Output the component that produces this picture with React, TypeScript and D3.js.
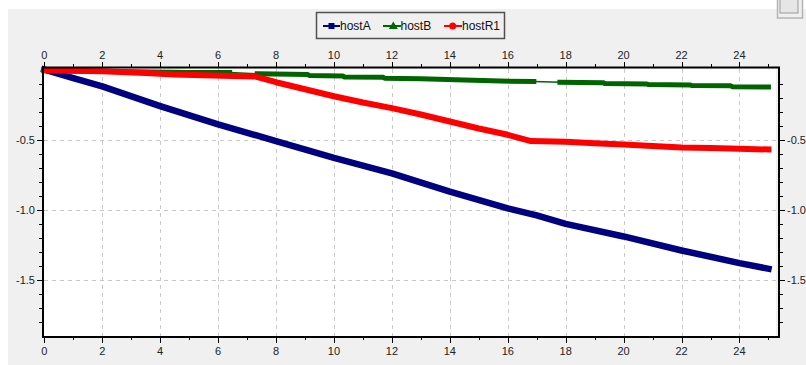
import React from "react";
import * as d3 from "d3";

type Pt = [number, number];

// Series values (x, y)
const hostA: Pt[] = [
  [0, 0], [1, -0.06], [2, -0.12], [4, -0.26], [6, -0.39], [8, -0.51], [10, -0.63],
  [12, -0.74], [14, -0.87], [16, -0.99], [17, -1.04], [18, -1.1], [20, -1.19],
  [22, -1.29], [24, -1.38], [25, -1.42],
];
const hostB: Pt[] = [
  [0, -0.005], [1, -0.01], [3, -0.015], [5, -0.02], [6.4, -0.02], [7.35, -0.03],
  [9.1, -0.035], [9.15, -0.042], [10.3, -0.045], [10.35, -0.052], [11.7, -0.055],
  [11.75, -0.062], [13, -0.066], [14.5, -0.075], [15.75, -0.082], [16.9, -0.084],
  [17.8, -0.09], [19.3, -0.093], [19.35, -0.1], [20.8, -0.102], [20.85, -0.107],
  [22.3, -0.109], [22.35, -0.114], [23.7, -0.116], [23.75, -0.122], [25, -0.124],
];
const hostBGaps: Pt[] = [[6.4, 7.35], [16.9, 17.8]];
const hostR1: Pt[] = [
  [0, -0.005], [2, -0.012], [3.5, -0.025], [4.5, -0.035], [6.5, -0.045], [7.3, -0.05],
  [8, -0.09], [9, -0.14], [10, -0.19], [11, -0.235], [12, -0.275], [13, -0.32],
  [14, -0.37], [15, -0.42], [16, -0.465], [16.8, -0.51], [18, -0.515], [19, -0.525],
  [20, -0.535], [21, -0.545], [22, -0.555], [23, -0.56], [24, -0.565], [25, -0.57],
];

const seriesNames = ["hostA", "hostB", "hostR1"];
const seriesColors = ["#000080", "#006400", "#ff0000"];

const xMajorTicks = [0, 2, 4, 6, 8, 10, 12, 14, 16, 18, 20, 22, 24];
const xMinorTicks = [1, 3, 5, 7, 9, 11, 13, 15, 17, 19, 21, 23, 25];
const yMajorTicks = [-0.5, -1.0, -1.5];
const yMinorTicks = d3.range(1, 19).map((i) => -i / 10);
const yTickLabels = ["-0.5", "-1.0", "-1.5"];

const W = 806;
const H = 365;
const plot = { x0: 44, x1: 778, y0: 69, y1: 336 };

const x = d3.scaleLinear().domain([0, 25.34]).range([44.3, 778.3]);
const y = d3.scaleLinear().domain([0, -1.9]).range([69.6, 336]);

const line = d3
  .line<Pt>()
  .x((d) => x(d[0]))
  .y((d) => y(d[1]));

function splitRuns(pts: Pt[], gaps: Pt[]): Pt[][] {
  const runs: Pt[][] = [];
  let cur: Pt[] = [pts[0]];
  for (let i = 1; i < pts.length; i++) {
    const mid = (pts[i - 1][0] + pts[i][0]) / 2;
    const inGap = gaps.some(([a, b]) => mid > a && mid < b);
    if (inGap) {
      runs.push(cur);
      cur = [pts[i]];
    } else cur.push(pts[i]);
  }
  runs.push(cur);
  return runs;
}

const font = "Liberation Sans, Arial, sans-serif";

export default function App() {
  const series: { pts: Pt[]; gaps: Pt[]; width: number }[] = [
    { pts: hostA, gaps: [], width: 6.5 },
    { pts: hostB, gaps: hostBGaps, width: 5 },
    { pts: hostR1, gaps: [], width: 6 },
  ];
  const tickColor = "#000";
  const labelColor = "#222";

  return (
    <svg
      width={W}
      height={H}
      style={{ position: "absolute", left: 0, top: 0 }}
      fontFamily={font}
    >
      <rect x={0} y={0} width={W} height={H} fill="#ffffff" />
      <rect x={8} y={9} width={W - 8} height={H - 9} fill="#f0f0f0" />
      <rect x={777.5} y={-1} width={25} height={19} fill="#f0f0f0" stroke="#b5b5b5" strokeWidth={1.5} />
      <rect x={780} y={-1} width={18} height={14} fill="#e6e6e6" stroke="#9a9a9a" strokeWidth={1} />

      {/* plot area */}
      <rect x={plot.x0} y={plot.y0} width={plot.x1 - plot.x0 - 2} height={plot.y1 - plot.y0} fill="#fff" />

      {/* grid */}
      <g stroke="#c8c8c8" strokeWidth={1} strokeDasharray="4,4">
        {xMajorTicks.filter((t) => t > 0).map((t) => (
          <line key={"gx" + t} x1={Math.round(x(t)) + 0.5} x2={Math.round(x(t)) + 0.5} y1={plot.y0} y2={plot.y1} />
        ))}
        {yMajorTicks.map((t) => (
          <line key={"gy" + t} x1={plot.x0} x2={plot.x1 - 2} y1={Math.round(y(t)) + 0.5} y2={Math.round(y(t)) + 0.5} />
        ))}
      </g>

      {/* series */}
      {series.map((s, i) => (
        <g key={seriesNames[i]}>
          <path d={line(s.pts) || ""} fill="none" stroke={seriesColors[i]} strokeWidth={1.5} />
          {splitRuns(s.pts, s.gaps).map((run, j) =>
            run.length > 1 ? (
              <path
                key={j}
                d={line(run) || ""}
                fill="none"
                stroke={seriesColors[i]}
                strokeWidth={s.width}
                strokeLinejoin="round"
                strokeLinecap="square"
              />
            ) : null
          )}
        </g>
      ))}

      {/* axis lines */}
      <g stroke={tickColor} strokeWidth={2} fill="none">
        <line x1={42} x2={780} y1={67.5} y2={67.5} />
        <line x1={42} x2={780} y1={337} y2={337} />
        <line x1={43} x2={43} y1={67.5} y2={337} />
        <line x1={779} x2={779} y1={67.5} y2={337} />
      </g>

      {/* x ticks top & bottom */}
      <g stroke={tickColor} strokeWidth={1}>
        {xMajorTicks.map((t) => {
          const px = Math.round(x(t)) + 0.5;
          return (
            <g key={"xt" + t}>
              <line x1={px} x2={px} y1={62} y2={67} />
              <line x1={px} x2={px} y1={337} y2={343} />
            </g>
          );
        })}
        {xMinorTicks.map((t) => {
          const px = Math.round(x(t)) + 0.5;
          return (
            <g key={"xm" + t}>
              <line x1={px} x2={px} y1={64} y2={67} />
              <line x1={px} x2={px} y1={337} y2={340} />
            </g>
          );
        })}
        {yMinorTicks.map((t) => {
          const py = Math.round(y(t)) + 0.5;
          const major = yMajorTicks.some((m) => Math.abs(m - t) < 1e-9);
          return (
            <g key={"ym" + t}>
              <line x1={major ? 37 : 39} x2={43} y1={py} y2={py} />
              <line x1={779} x2={major ? 785 : 783} y1={py} y2={py} />
            </g>
          );
        })}
      </g>

      {/* tick labels */}
      <g fontSize={11} fill={labelColor}>
        {xMajorTicks.map((t) => (
          <g key={"xl" + t}>
            <text x={x(t)} y={59} textAnchor="middle">{t}</text>
            <text x={x(t)} y={355} textAnchor="middle">{t}</text>
          </g>
        ))}
        {yMajorTicks.map((t, i) => (
          <g key={"yl" + t}>
            <text x={35} y={y(t) + 4} textAnchor="end">{yTickLabels[i]}</text>
            <text x={787} y={y(t) + 4} textAnchor="start">{yTickLabels[i]}</text>
          </g>
        ))}
      </g>

      {/* legend */}
      <g>
        <rect x={316.5} y={12.5} width={188} height={26} fill="#f0f0f0" stroke="#505050" strokeWidth={1.5} />
        {/* hostA */}
        <line x1={323} x2={340} y1={26} y2={26} stroke={seriesColors[0]} strokeWidth={2} />
        <rect x={328.5} y={23} width={6} height={6} fill={seriesColors[0]} />
        <text x={340} y={30} fontSize={12} fill="#111">{seriesNames[0]}</text>
        {/* hostB */}
        <line x1={383} x2={401} y1={26} y2={26} stroke={seriesColors[1]} strokeWidth={2} />
        <path d="M393.3,21.5 L397.8,29 L388.8,29 Z" fill={seriesColors[1]} />
        <text x={400.5} y={30} fontSize={12} fill="#111">{seriesNames[1]}</text>
        {/* hostR1 */}
        <line x1={444} x2={462} y1={26} y2={26} stroke={seriesColors[2]} strokeWidth={2} />
        <circle cx={452.7} cy={26} r={3.5} fill={seriesColors[2]} />
        <text x={462} y={30} fontSize={12} fill="#111">{seriesNames[2]}</text>
      </g>
    </svg>
  );
}
